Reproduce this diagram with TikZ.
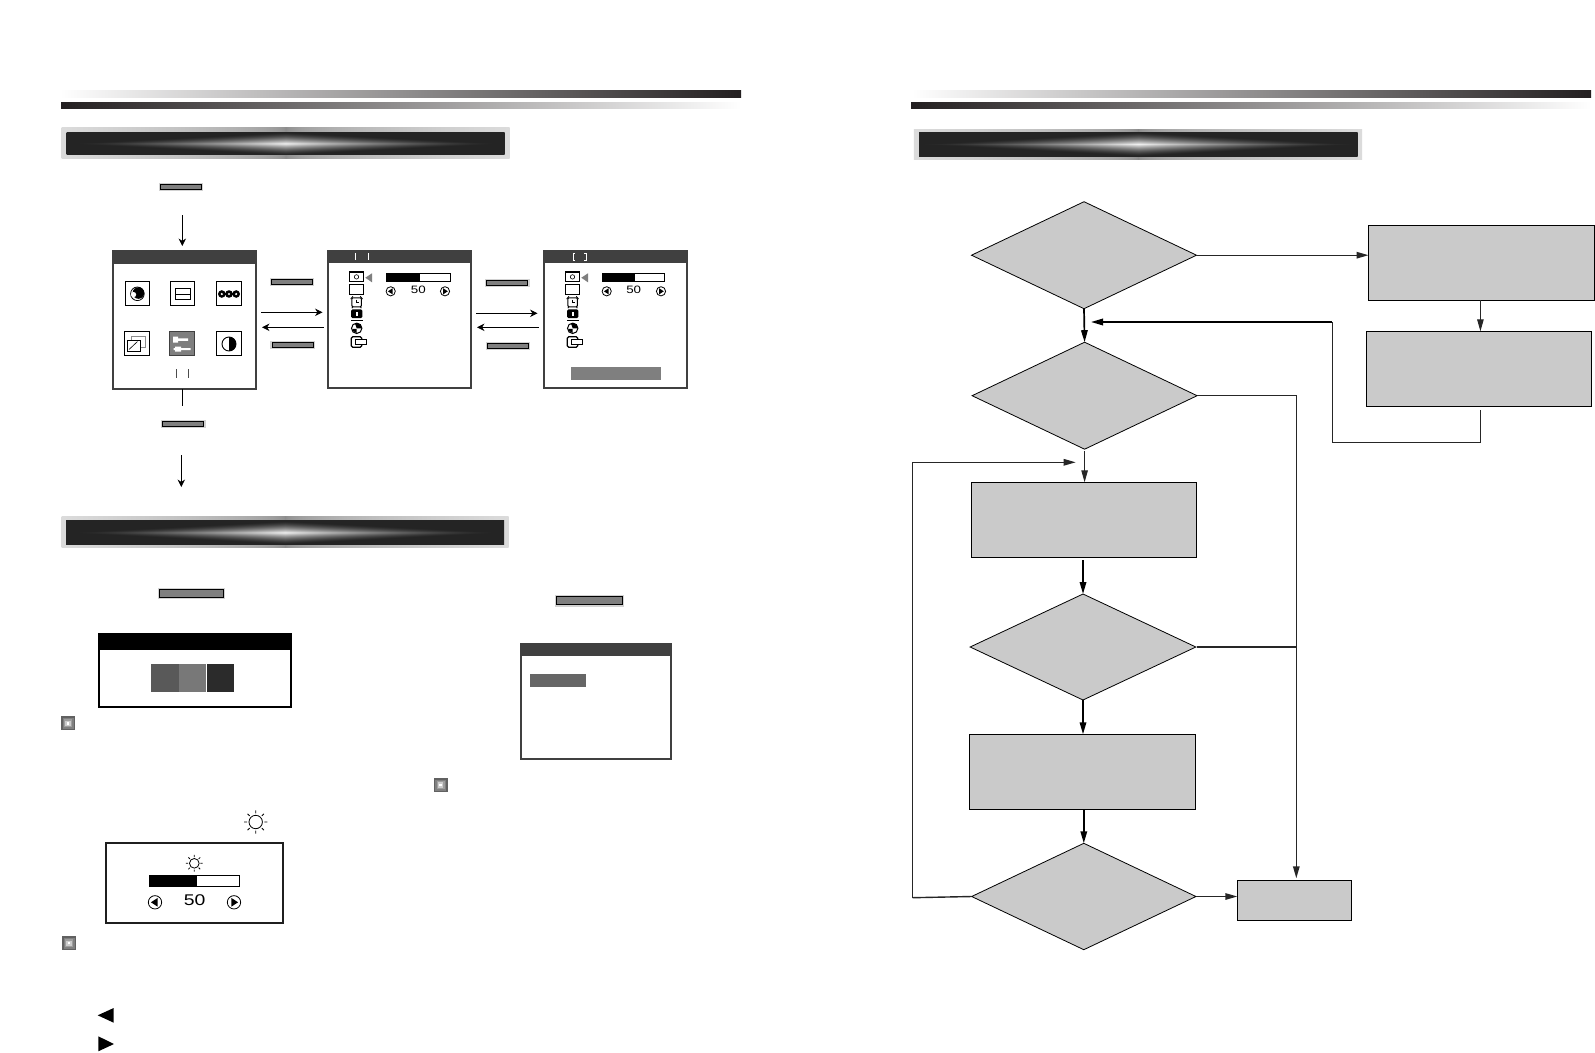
\documentclass[tikz,border=0pt]{standalone}
\usepackage{fontspec}
\usepackage{graphicx}
\setsansfont{Liberation Sans}
\usetikzlibrary{arrows.meta,shapes.geometric}
\definecolor{bandark}{HTML}{231F20}
\definecolor{titlegray}{HTML}{404040}
\definecolor{flowgray}{HTML}{CACACA}
\definecolor{btngray}{HTML}{7F7F7F}
\definecolor{halogray}{HTML}{D2D2D2}
\pgfdeclarefunctionalshading{bannerglow}{\pgfpoint{-50bp}{-50bp}}{\pgfpoint{50bp}{50bp}}{}{
  abs 25 div exch abs 25 div add 1 exch sub dup 0 lt {pop 0} if dup sqrt mul 0.8 mul 0.14 add dup dup
}
\pgfdeclarefunctionalshading{bannerhalo}{\pgfpoint{-50bp}{-50bp}}{\pgfpoint{50bp}{50bp}}{}{
  pop abs 25 div 0.5 exp 0.32 mul 0.54 add dup dup
}
\tikzset{
  barleft/.style={left color=white,right color=bandark},
  barright/.style={left color=bandark,right color=white},
  bannerframe/.style={rectangle,inner sep=0pt,outer sep=0pt,shading=bannerhalo},
  bannercore/.style={rectangle,inner sep=0pt,outer sep=0pt,shading=bannerglow},
  button/.style={rectangle,draw=black,fill=btngray,line width=1pt,inner sep=0pt,outer sep=0pt,
    preaction={draw=halogray,line width=3.4pt}},
  winframe/.style={rectangle,draw=titlegray,fill=white,line width=1.8pt,inner sep=0pt,outer sep=0pt},
  titlebar/.style={fill=titlegray},
  iconbox/.style={rectangle,draw=black,fill=white,line width=1pt,inner sep=0pt,outer sep=0pt,
    minimum width=24.5pt,minimum height=23.7pt},
  menuarrow/.style={-{Stealth[length=7.5pt,width=7.5pt]},line width=0.8pt},
  tickmark/.style={draw=black!70,line width=1pt},
  decision/.style={diamond,draw=black,fill=flowgray,line width=0.8pt,inner sep=0pt,outer sep=0pt},
  process/.style={rectangle,draw=black,fill=flowgray,line width=0.8pt,inner sep=0pt,outer sep=0pt},
  flowthin/.style={line width=1pt,draw=black!85},
  flowline/.style={line width=1.4pt,draw=black!85},
  flowthick/.style={line width=1.7pt,draw=black},
  valuetext/.style={font=\sffamily\fontsize{10.7pt}{11pt}\selectfont,inner sep=0pt},
  stepbtn/.pic={
    \draw[line width=0.8pt,fill=white] (0,0) circle (4.6);
    \fill (#1*2.8,0) -- (-#1*1.8,-3) -- (-#1*1.8,3) -- cycle;
  },
  stepbtn/.default=1,
  bulletsq/.pic={
    \fill[black!62] (-7,-7) rectangle (7,7);
    \fill[black!50] (-5.5,-5.5) rectangle (5.5,5.5);
    \fill[black!38] (-4,-4) rectangle (4,4);
    \fill[black!20] (-2.6,-2.6) rectangle (2.6,2.6);
    \fill[white] (-1.2,-1.2) rectangle (1.2,1.2);
  },
  sunicon/.pic={
    \draw[line width=0.8pt] (0,0) circle (6.7);
    \draw[line width=0.8pt] (0:8.6) -- (0:11.6) (45:8.6) -- (45:11.6) (90:8.6) -- (90:11.6)
      (135:8.6) -- (135:11.6) (180:8.6) -- (180:11.6) (225:8.6) -- (225:11.6)
      (270:8.6) -- (270:11.6) (315:8.6) -- (315:11.6);
  },
  menuicons/.pic={
    \draw[line width=1.2pt] (0,0) rectangle (14.4,9.7);
    \draw[line width=0.6pt] (7.2,4.9) circle (2.2);
    \fill[btngray] (16,5.7) -- (22.7,1.3) -- (22.7,10.3) -- cycle;
    \draw[line width=1.2pt] (0,12.3) rectangle (14.4,22.7);
    \draw[line width=1pt,rounded corners=1pt] (2.6,25.8) rectangle (12,34.8);
    \draw[line width=0.8pt] (7.4,27.5) -- (7.4,30.6) -- (10,30.6);
    \draw[line width=0.9pt] (1.4,27) -- (3.6,24.4) (13.2,27) -- (11,24.4) (2.6,36.2) -- (3.6,34.6) (12,36.2) -- (11.2,34.6);
    \fill[rounded corners=1.5pt] (1.8,37.3) rectangle (13,46.2);
    \fill[white] (6.4,39.8) rectangle (8.4,43.6);
    \draw[line width=0.9pt] (1.7,48) -- (13.7,48);
    \draw[line width=1pt] (7.4,56.3) circle (5.2);
    \fill (7.4,56.3) -- (12.6,56.3) arc[start angle=0,end angle=-110,radius=5.2] -- cycle;
    \fill (7.4,56.8) -- (3,56.8) -- (3.5,59) -- (7.4,61) -- cycle;
    \draw[line width=1.2pt,rounded corners=1.5pt] (2,64.7) rectangle (12.4,75.3);
    \draw[line width=1pt,fill=white] (5.7,67.3) rectangle (17.4,72.7);
  },
}
\begin{document}
\begin{tikzpicture}[x=1pt,y=-1pt,>={Triangle[length=12pt,width=6.5pt]}]
  \useasboundingbox (0,0) rectangle (1595,1052);
  % header bars
  \shade[barleft] (60,90) rectangle (741,97);
  \shade[barright] (61,102) rectangle (741,108);
  \shade[barleft] (912,90) rectangle (1591,97);
  \shade[barright] (911,102) rectangle (1591,108);
  % banners
  \node[bannerframe,minimum width=448pt,minimum height=31pt] (framea) at (285.7,143.4) {};
  \node[bannercore,minimum width=437.8pt,minimum height=22.7pt] (bannera) at (285.6,143.4) {};
  \node[bannerframe,minimum width=447pt,minimum height=31pt] (frameb) at (285.2,532.2) {};
  \node[bannercore,minimum width=438pt,minimum height=23.3pt] (bannerb) at (285,532.4) {};
  \node[bannerframe,minimum width=448.2pt,minimum height=30.7pt] (framec) at (1137.9,144.6) {};
  \node[bannercore,minimum width=438.4pt,minimum height=24pt] (bannerc) at (1138.4,144) {};
  % main menu
  \node[button,minimum width=41pt,minimum height=5.2pt] (btna) at (181,186.8) {};
  \coordinate (arrowa) at (182.3,215);
  \coordinate (arrowb) at (182.3,246);
  \draw[menuarrow] (arrowa) -- (arrowb);
  \node[winframe,minimum width=142.9pt,minimum height=138.2pt] (wina) at (184.35,320) {};
  \fill[titlebar] (wina.north west) rectangle (255.8,264);
  \node[iconbox] (icona) at (137.4,293.8) {};
  \node[iconbox] (iconb) at (182.5,293.8) {};
  \node[iconbox] (iconc) at (229,293.8) {};
  \node[iconbox] (icond) at (137,343.8) {};
  \node[iconbox,fill=btngray,draw=titlegray] (icone) at (182,343.8) {};
  \node[iconbox] (iconf) at (229,343.8) {};
  \draw[line width=0.8pt] (137.4,293.8) circle (6.8);
  \fill (138.4,293) circle (5.8);
  \fill[white] (133.6,294.6) circle (2.6);
  \draw[line width=0.7pt] (175,288.5) rectangle (190.5,299.5);
  \draw[line width=0.6pt] (175,294) -- (190.5,294);
  \fill (221.8,294) circle (3.8) (229,294) circle (3.8) (236.2,294) circle (3.8);
  \fill[white] (221.8,294) circle (1.2) (229,294) circle (1.2) (236.2,294) circle (1.2);
  \draw[black!45,line width=0.6pt] (131.5,336) rectangle (145,347);
  \draw[line width=0.8pt,fill=white] (127,340.5) rectangle (140,351);
  \draw[line width=0.6pt] (129,349.5) -- (137.5,341.5);
  \fill[white] (173,338.4) rectangle (188,340.8) (173.5,348) rectangle (190.5,350.2);
  \fill[white] (173,336.5) rectangle (178,342.5) (175,346.5) rectangle (181,351.5);
  \draw[line width=0.9pt] (229,344) circle (7);
  \fill (229,337) arc[start angle=-90,end angle=90,radius=7] -- cycle;
  \draw[tickmark] (176,369.3) -- (176,377.7) (188.7,369.3) -- (188.7,377.7);
  \coordinate (linea) at (182.3,406);
  \draw[line width=0.8pt] (wina.south -| linea) -- (linea);
  \node[button,minimum width=41.5pt,minimum height=5.4pt] (btnb) at (183.2,424) {};
  \coordinate (arrowc) at (181.3,455);
  \coordinate (arrowd) at (181.3,487);
  \draw[menuarrow] (arrowc) -- (arrowd);
  % first sub menu
  \node[button,minimum width=41.5pt,minimum height=5.2pt] (btnc) at (292,282) {};
  \node[button,minimum width=41.5pt,minimum height=5pt] (btnd) at (292.8,345) {};
  \coordinate (righta) at (261,312.3);
  \coordinate (rightb) at (322.5,312.3);
  \coordinate (lefta) at (323.5,327.3);
  \coordinate (leftb) at (262,327.3);
  \draw[menuarrow] (righta) -- (rightb);
  \draw[menuarrow] (lefta) -- (leftb);
  \node[winframe,minimum width=142.9pt,minimum height=136.9pt] (winb) at (399.65,319.35) {};
  \fill[titlebar] (winb.north west) rectangle (471.1,262.7);
  \draw[draw=white,line width=0.9pt] (355.7,253) -- (355.7,260) (368.7,253) -- (368.7,260);
  \pic at (349.3,272) {menuicons};
  \draw[line width=0.9pt] (386,273) rectangle (450,281);
  \fill (386,273) rectangle (420,281);
  \pic at (390.7,291.3) {stepbtn=-1};
  \node[valuetext] (valuea) at (418.3,290) {\scalebox{1.25}[1]{50}};
  \pic at (445,291.3) {stepbtn=1};
  % second sub menu
  \node[button,minimum width=41.5pt,minimum height=5.2pt] (btne) at (507.2,283) {};
  \node[button,minimum width=41.5pt,minimum height=5pt] (btnf) at (508,346.2) {};
  \coordinate (rightc) at (476,313.3);
  \coordinate (rightd) at (537.5,313.3);
  \coordinate (leftc) at (538.5,327.3);
  \coordinate (leftd) at (477,327.3);
  \draw[menuarrow] (rightc) -- (rightd);
  \draw[menuarrow] (leftc) -- (leftd);
  \node[winframe,minimum width=142.9pt,minimum height=136.9pt] (winc) at (615.65,319.35) {};
  \fill[titlebar] (winc.north west) rectangle (687.1,262.7);
  \draw[draw=white,line width=0.8pt] (575,253.5) -- (573.3,253.5) -- (573.3,260.5) -- (575,260.5)
    (584.3,253.5) -- (586,253.5) -- (586,260.5) -- (584.3,260.5);
  \pic at (565.3,272) {menuicons};
  \draw[line width=0.9pt] (602,273) rectangle (664.7,281);
  \fill (602,273) rectangle (635,281);
  \pic at (606.7,291.3) {stepbtn=-1};
  \node[valuetext] (valueb) at (633.7,290) {\scalebox{1.25}[1]{50}};
  \pic at (661,291.3) {stepbtn=1};
  \fill[btngray] (571,367) rectangle (661,380);
  % colour window
  \node[button,minimum width=64.4pt,minimum height=8.4pt] (btng) at (191.5,593.5) {};
  \node[winframe,draw=black,minimum width=192pt,minimum height=73pt] (wind) at (195,670.3) {};
  \fill (wind.north west) rectangle (292,650);
  \fill[black!65] (151,664) rectangle (179,692);
  \fill[black!53] (179,664) rectangle (206,692);
  \fill[black!83] (207,664) rectangle (234,692);
  \pic at (68,723.3) {bulletsq};
  % recall window
  \node[button,minimum width=65.7pt,minimum height=8.7pt] (btnh) at (589.2,600.6) {};
  \node[winframe,minimum width=150pt,minimum height=115.5pt] (wine) at (596,701.3) {};
  \fill[titlebar] (wine.north west) rectangle (671,656);
  \fill[black!60] (530,674) rectangle (586,687);
  \pic at (440.5,785) {bulletsq};
  % brightness window
  \pic at (255.7,822) {sunicon};
  \node[winframe,draw=black!88,minimum width=177pt,minimum height=80.5pt] (winf) at (194.5,883) {};
  \pic[scale=0.72] at (194.3,863.3) {sunicon};
  \draw[line width=1.1pt] (149.5,875.5) rectangle (239.5,886.5);
  \fill (149,875) rectangle (197,887);
  \pic[scale=1.45] at (155,902.3) {stepbtn=-1};
  \node[valuetext,font=\sffamily\fontsize{15.5pt}{16pt}\selectfont] (valuec) at (194.7,900.3) {\scalebox{1.25}[1]{50}};
  \pic[scale=1.45] at (234,902.3) {stepbtn=1};
  \pic at (69,943.2) {bulletsq};
  \fill (97.7,1015.3) -- (113.7,1008) -- (113.7,1022.7) -- cycle;
  \fill (98.3,1036.3) -- (114,1044) -- (98.3,1051.3) -- cycle;
  % flow chart
  \node[decision,minimum width=225pt,minimum height=107pt] (dsta) at (1084,255.2) {};
  \node[decision,minimum width=225pt,minimum height=107pt] (dstb) at (1084.6,395.7) {};
  \node[process,minimum width=225.4pt,minimum height=75pt] (boxc) at (1084,519.8) {};
  \node[decision,minimum width=225.7pt,minimum height=106pt] (dstc) at (1083,647) {};
  \node[process,minimum width=226.4pt,minimum height=75pt] (boxd) at (1082.6,771.8) {};
  \node[decision,minimum width=224.3pt,minimum height=106.4pt] (dstd) at (1083.8,896.5) {};
  \node[process,minimum width=226pt,minimum height=75pt] (boxa) at (1481.5,262.8) {};
  \node[process,minimum width=225pt,minimum height=75pt] (boxb) at (1479,368.8) {};
  \node[process,minimum width=114.4pt,minimum height=40pt] (boxend) at (1294.5,900.3) {};
  \coordinate (outb) at (1480.4,410);
  \coordinate (turnb) at (1332.4,442.3);
  \coordinate (cornerb) at (1332.4,322);
  \coordinate (tipb) at (1091,322);
  \coordinate (tipend) at (1296.3,878.3);
  \coordinate (cornerd) at (912.7,897.7);
  \coordinate (tipd) at (1075.7,462.3);
  \draw[flowline,->] (dsta.east) -- (dsta.east -| boxa.west);
  \draw[flowthin,->] (boxa.south -| outb) -- (boxb.north -| outb);
  \draw[flowthin] (outb) |- (turnb) -- (cornerb);
  \draw[flowthick,->] (cornerb) -- (tipb);
  \draw[flowthick,->] (dsta.south) -- (dstb.north);
  \draw[flowline,->] (dstb.east) -| (tipend);
  \draw[flowthin,->,shorten <=2pt] (dstb.south) -- (dstb.south |- boxc.north);
  \draw[flowthick,->,shorten <=3pt] (boxc.south -| dstc.north) -- (dstc.north);
  \draw[flowline,shorten <=1.5pt] (dstc.east) -- (dstc.east -| tipend);
  \draw[flowthick,->] (dstc.south) -- (dstc.south |- boxd.north);
  \draw[flowthick,->] (boxd.south -| dstd.north) -- (dstd.north);
  \draw[flowline,->] (dstd.east) -- (dstd.east -| boxend.west);
  \draw[flowline] (dstd.west) -- (cornerd);
  \draw[flowline,->] (cornerd) |- (tipd);
\end{tikzpicture}
\end{document}
